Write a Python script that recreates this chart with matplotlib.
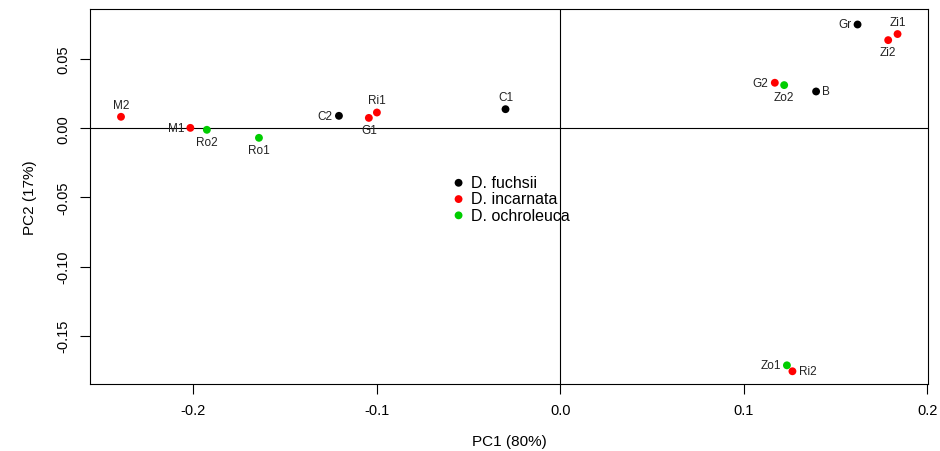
import matplotlib
matplotlib.use("Agg")
from matplotlib import pyplot as plt

plt.rcParams['font.family'] = ['Liberation Sans', 'DejaVu Sans']

# PCA scores
names = ["M2", "M1", "Ro2", "Ro1", "C2", "G1", "Ri1", "C1",
         "Gr", "Zi1", "Zi2", "G2", "Zo2", "B", "Zo1", "Ri2"]
pc1 = [-0.2394, -0.2016, -0.1926, -0.1642, -0.1206, -0.1043, -0.0999, -0.0298,
       0.1621, 0.1839, 0.1788, 0.1170, 0.1221, 0.1395, 0.1236, 0.1266]
pc2 = [0.0082, 0.0002, -0.0012, -0.0070, 0.0089, 0.0074, 0.0113, 0.0137,
       0.0749, 0.0680, 0.0636, 0.0328, 0.0311, 0.0265, -0.1714, -0.1757]
species = ["D. incarnata", "D. incarnata", "D. ochroleuca", "D. ochroleuca",
           "D. fuchsii", "D. incarnata", "D. incarnata", "D. fuchsii",
           "D. fuchsii", "D. incarnata", "D. incarnata", "D. incarnata",
           "D. ochroleuca", "D. fuchsii", "D. ochroleuca", "D. incarnata"]
# where each label sits: 1 below, 2 left, 3 above, 4 right (as in R text pos)
label_pos = [3, 2, 1, 1, 2, 1, 3, 3, 2, 3, 1, 2, 1, 4, 2, 4]

species_order = ["D. fuchsii", "D. incarnata", "D. ochroleuca"]
colours = {"D. fuchsii": "black", "D. incarnata": "#ff0000", "D. ochroleuca": "#00cd00"}

fig = plt.figure(figsize=(9.4, 4.52), dpi=100)
ax = fig.add_axes([90/940, 67/452, 838/940, 375/452])

ax.axhline(0, color="black", lw=0.8, zorder=1)
ax.axvline(0, color="black", lw=0.8, zorder=1)

for sp in species_order:
    xs = [x for x, s in zip(pc1, species) if s == sp]
    ys = [y for y, s in zip(pc2, species) if s == sp]
    ax.scatter(xs, ys, s=32, color=colours[sp], edgecolors="none", zorder=3, label=sp)

offs = {1: (0, -4.5, "center", "top"), 2: (-4.5, 0, "right", "center"),
        3: (0, 4.5, "center", "bottom"), 4: (4.5, 0, "left", "center")}
for n, x, y, p in zip(names, pc1, pc2, label_pos):
    dx, dy, ha, va = offs[p]
    ax.annotate(n, (x, y), xytext=(dx, dy), textcoords="offset points",
                ha=ha, va=va, fontsize=8.5, color="#222222")

ax.set_xlim(-0.2563, 0.2005)
ax.set_ylim(-0.1849, 0.0861)
ax.set_xticks([-0.2, -0.1, 0.0, 0.1, 0.2])
ax.set_xticklabels(["-0.2", "-0.1", "0.0", "0.1", "0.2"])
ax.set_yticks([-0.15, -0.10, -0.05, 0.0, 0.05])
ax.set_yticklabels(["-0.15", "-0.10", "-0.05", "0.00", "0.05"], rotation=90, va="center")
ax.tick_params(labelsize=10.5, length=7, width=0.8, pad=7)
for s in ax.spines.values():
    s.set_linewidth(0.8)

ax.set_xlabel("PC1 (80%)", fontsize=11, labelpad=12)
ax.set_ylabel("PC2 (17%)", fontsize=11, labelpad=14)

ax.legend(loc="upper left", bbox_to_anchor=((441-90)/838, (385-168)/375),
          frameon=False, fontsize=11.5, handletextpad=0.2, labelspacing=0.08,
          markerscale=1.0, borderpad=0, handlelength=1.2)

plt.savefig("out.png", dpi=100)
